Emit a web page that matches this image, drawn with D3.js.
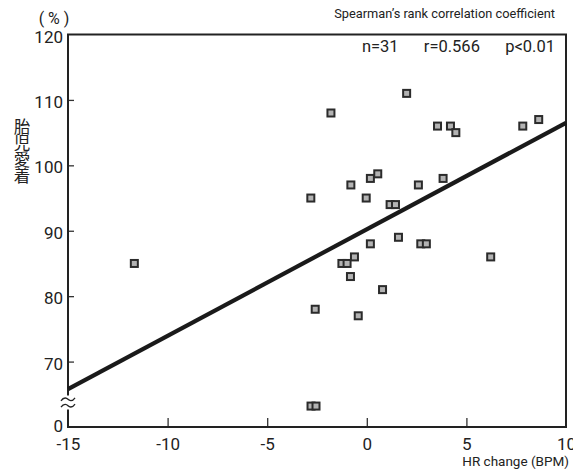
<!DOCTYPE html>
<html><head><meta charset="utf-8">
<script src="https://cdn.jsdelivr.net/npm/d3@7"></script>
<style>
html,body{margin:0;padding:0;background:#fff;}
svg text{font-family:Roboto,"Noto Sans",sans-serif;fill:#222;}
</style></head>
<body>
<svg id="c" width="573" height="470"></svg>
<script>
// ---- data ----
const hrChange = [2.0, -1.8, 0.55, 0.18, -0.8, 2.59, -2.81, -0.03, 1.17, 1.44,
  0.18, 1.59, 2.71, 2.99, -0.62, -1.25, -0.99, -0.82, 0.79, -2.59,
  -0.43, -11.67, 3.55, 4.2, 4.47, 3.83, 6.22, 7.83, 8.63, -2.8, -2.55];
const attachment = [111, 108, 98.7, 98, 97, 97, 95, 95, 94, 94,
  88, 89, 88, 88, 86, 85, 85, 83, 81, 78,
  77, 85, 106, 106, 105, 98, 86, 106, 107, 63.2, 63.2];
const fitX = [-15, 10];
const fitY = [65.8, 106.5];
const xTicks = [-15, -10, -5, 0, 5, 10];
const yTicks = [60, 70, 80, 90, 100, 110, 120];
const yTickLabels = ["0", "70", "80", "90", "100", "110", "120"];
const statsText = "n=31\u2003\u2002r=0.566\u2003\u2002p<0.01";
const noteText = "Spearman\u2019s rank correlation coefficient";
const yTitle = "胎児愛着";
const xTitle = "HR change (BPM)";
const unitText = "( % )";

// ---- layout ----
const svg = d3.select("#c");
const L = 68, R = 566, T = 34.5, B = 427;
const x = d3.scaleLinear().domain([-15, 10]).range([L, R]);
const y = d3.scaleLinear().domain([60, 120]).range([B, T]);

// y axis ticks (inward)
const yAxis = d3.axisLeft(y).tickValues(yTicks).tickSize(-6).tickPadding(12)
  .tickFormat((d, i) => yTickLabels[i]);
const gy = svg.append("g").attr("transform", `translate(${L},0)`).call(yAxis);
gy.select(".domain").remove();
gy.selectAll(".tick line").attr("stroke", "#333").attr("stroke-width", 1.3)
  .attr("display", d => (d === 60 || d === 120) ? "none" : null);
gy.selectAll(".tick text").attr("font-size", 17).attr("x", -5)
  .attr("dy", d => d === 60 ? "0.25em" : "0.45em")
  .attr("fill", "#222").style("font-family", "Roboto,sans-serif");

// x axis ticks (inward)
const xAxis = d3.axisBottom(x).tickValues(xTicks).tickSize(-9).tickPadding(10)
  .tickFormat(d => String(d));
const gx = svg.append("g").attr("transform", `translate(0,${B})`).call(xAxis);
gx.select(".domain").remove();
gx.selectAll(".tick line").attr("stroke", "#333").attr("stroke-width", 1.3)
  .attr("display", d => (d === -15 || d === 10) ? "none" : null);
gx.selectAll(".tick text").attr("font-size", 17).attr("y", 9).attr("dy", "0.85em")
  .attr("fill", "#222").style("font-family", "Roboto,sans-serif");

// frame
svg.append("rect").attr("x", L).attr("y", T).attr("width", R - L).attr("height", B - T)
  .attr("fill", "none").attr("stroke", "#222").attr("stroke-width", 2);

// regression line
svg.append("line")
  .attr("x1", x(fitX[0])).attr("y1", y(fitY[0]))
  .attr("x2", x(fitX[1])).attr("y2", y(fitY[1]))
  .attr("stroke", "#1a1a1a").attr("stroke-width", 4.2);

// axis break
const by = 402.5;
svg.append("rect").attr("x", L - 4).attr("y", by - 7).attr("width", 8).attr("height", 14).attr("fill", "#fff");
[-3.2, 3.2].forEach(o => {
  const yy = by + o;
  svg.append("path")
    .attr("d", `M${L - 7},${yy + 1.5} C${L - 4},${yy - 3} ${L - 1},${yy - 1} ${L},${yy} S${L + 4},${yy + 3} ${L + 7},${yy - 1.5}`)
    .attr("fill", "none").attr("stroke", "#222").attr("stroke-width", 1.3);
});

// points
const pts = hrChange.map((v, i) => [v, attachment[i]]);
svg.append("g").selectAll("rect").data(pts).join("rect")
  .attr("x", d => x(d[0]) - 3.5).attr("y", d => y(d[1]) - 3.5)
  .attr("width", 7).attr("height", 7)
  .attr("fill", "#b3b3b3").attr("stroke", "#2b2b2b").attr("stroke-width", 2);

// texts
svg.append("text").attr("x", 555).attr("y", 18).attr("text-anchor", "end")
  .attr("font-size", 12.8).text(noteText);
svg.append("text").attr("x", 555).attr("y", 52).attr("text-anchor", "end")
  .attr("font-size", 16.5).text(statsText);
svg.append("text").attr("x", 569).attr("y", 466).attr("text-anchor", "end")
  .attr("font-size", 13.5).text(xTitle);
svg.append("text").attr("x", 54).attr("y", 24).attr("text-anchor", "middle")
  .attr("font-size", 16).text(unitText);
svg.append("text")
  .attr("transform", "translate(22,118)")
  .style("writing-mode", "vertical-rl").style("text-orientation", "upright")
  .style("font-family", '"Noto Sans CJK JP",sans-serif')
  .attr("font-size", 16.5).text(yTitle);
</script>
</body></html>
